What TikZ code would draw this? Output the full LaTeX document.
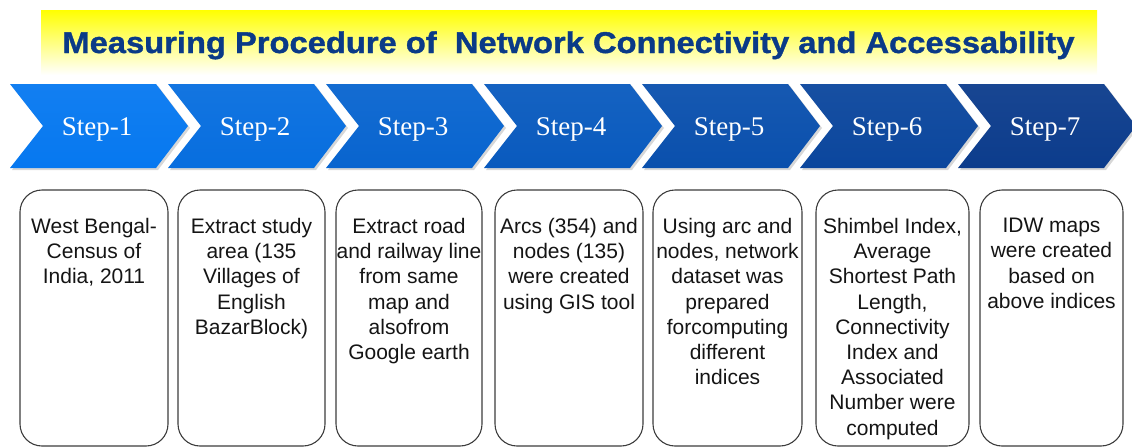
\documentclass[tikz,border=0pt]{standalone}
\usepackage{fontspec}
\setmainfont{Liberation Sans}
\newfontfamily\stepfont{Liberation Serif}
\newfontfamily\titlefont[FakeStretch=1.09, FakeBold=1.2]{Liberation Sans Bold}
\definecolor{stepfirst}{RGB}{6,120,240}
\definecolor{steplast}{RGB}{12,60,140}
\definecolor{titleblue}{RGB}{10,58,135}
\definecolor{boxline}{RGB}{60,60,60}
\definecolor{boxtext}{RGB}{20,20,20}
\tikzset{
  titletext/.style={font=\titlefont\fontsize{30}{34}\selectfont, text=titleblue, inner sep=0pt, anchor=base},
  steplabel/.style={font=\stepfont\fontsize{27}{30}\selectfont, text=white, inner sep=0pt, anchor=base},
  stepshadow/.style={fill=black!35, opacity=0.45},
  infobox/.style={draw=boxline, line width=1.1pt, rounded corners=22pt},
  infotext/.style={font=\fontsize{21}{25.2}\selectfont, text=boxtext, align=center, inner sep=0pt, anchor=north},
}
\begin{document}
\begin{tikzpicture}[x=1pt,y=-1pt]
\useasboundingbox (0,0) rectangle (1132,447);
\clip (0,0) rectangle (1132,447);

% heading band: yellow fading to white
\shade[top color=yellow, middle color=yellow!80!white, bottom color=white]
  (41,10) rectangle (1097,75);
\node[titletext] (title) at (568.5,53) {Measuring Procedure of \ Network Connectivity and Accessability};

% chevron row
\foreach \i in {1,...,7} {
  \pgfmathsetmacro{\L}{10+158*(\i-1)}
  \pgfmathtruncatemacro{\pct}{round(100*(\i-1)/6)}
  \colorlet{chevfill}{steplast!\pct!stepfirst}
  \fill[stepshadow] (\L+2,86) -- (\L+148,86) -- (\L+180,128) -- (\L+148,170)
    -- (\L+2,170) -- (\L+35,128) -- cycle;
  \shade[top color=chevfill!95!white, bottom color=chevfill]
    (\L,84) -- (\L+146,84) -- (\L+178,126) -- (\L+146,168)
    -- (\L,168) -- (\L+33,126) -- cycle;
  \node[steplabel] (step\i) at (\L+87,135) {Step-\i};
}

% description boxes
\foreach \n/\a/\b in {1/20/168, 2/178/325, 3/336/482, 4/495/643, 5/653/802, 6/816/969, 7/980/1123} {
  \draw[infobox] (\a,190) rectangle (\b,446);
}
\node[infotext] (desc1) at (94,218) {West Bengal-\\Census of\\India, 2011};
\node[infotext] (desc2) at (251.5,218) {Extract study\\area (135\\Villages of\\English\\BazarBlock)};
\node[infotext] (desc3) at (409,218) {Extract road\\and railway line\\from same\\map and\\alsofrom\\Google earth};
\node[infotext] (desc4) at (569,218) {Arcs (354) and\\nodes (135)\\were created\\using GIS tool};
\node[infotext] (desc5) at (727.5,218) {Using arc and\\nodes, network\\dataset was\\prepared\\forcomputing\\different\\indices};
\node[infotext] (desc6) at (892.5,218) {Shimbel Index,\\Average\\Shortest Path\\Length,\\Connectivity\\Index and\\Associated\\Number were\\computed};
\node[infotext] (desc7) at (1051.5,218) {IDW maps\\were created\\based on\\above indices};
\end{tikzpicture}
\end{document}
